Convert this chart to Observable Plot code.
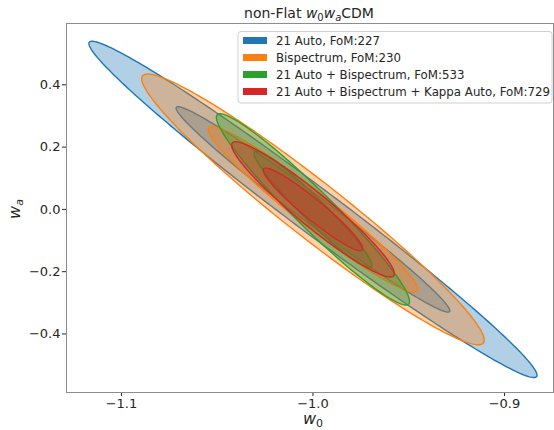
<!DOCTYPE html>
<html><head><meta charset="utf-8">
<script src="https://cdn.jsdelivr.net/npm/d3@7"></script>
<script src="https://cdn.jsdelivr.net/npm/@observablehq/plot@0.6"></script>
<style>body{margin:0;background:#fff;} svg{font-family:"DejaVu Sans",sans-serif}</style>
</head><body><div id="chart"></div>
<script>
// Series (Fisher forecasts)
const seriesNames = ["21 Auto, FoM:227", "Bispectrum, FoM:230", "21 Auto + Bispectrum, FoM:533", "21 Auto + Bispectrum + Kappa Auto, FoM:729"];
const seriesColors = ["#1f77b4", "#ff7f0e", "#2ca02c", "#d62728"];
const centerW0 = [-1.0, -1.0, -1.0, -1.0];
const centerWa = [0.0, 0.0, 0.0, 0.0];
const sigmaW0 = [0.0471, 0.0360, 0.0203, 0.0171];
const sigmaWa = [0.2174, 0.1750, 0.1236, 0.0874];
const rho = [-0.986, -0.965, -0.962, -0.950];
// sqrt(delta chi^2) for 2-sigma (outer) and 1-sigma (inner) contours
const levels = [2.484, 1.517];
const xTicks = [-1.1, -1.0, -0.9];
const yTicks = [-0.4, -0.2, 0.0, 0.2, 0.4];

// ellipse outlines from each covariance
const pts = [];
const N = 240;
seriesNames.forEach((name, i) => {
  levels.forEach((k, j) => {
    for (let s = 0; s < N; s++) {
      const t = 2 * Math.PI * s / N;
      pts.push({
        key: i + "-" + j,
        series: name,
        w0: centerW0[i] + k * sigmaW0[i] * Math.cos(t),
        wa: centerWa[i] + k * sigmaWa[i] * (rho[i] * Math.cos(t) + Math.sqrt(1 - rho[i] * rho[i]) * Math.sin(t))
      });
    }
  });
});

const fmt = d3.format(".1f");
const plot = Plot.plot({
  width: 554, height: 430,
  marginLeft: 66, marginRight: 1, marginTop: 23, marginBottom: 38,
  style: {fontFamily: "DejaVu Sans", fontSize: "13px", color: "#262626", background: "#fff"},
  x: {domain: [-1.1287, -0.8744], ticks: xTicks, tickFormat: fmt, tickSize: 4, tickPadding: 2, label: null},
  y: {domain: [-0.588, 0.597], ticks: yTicks, tickFormat: fmt, tickSize: 4, tickPadding: 2, label: null},
  color: {domain: seriesNames, range: seriesColors},
  marks: [
    Plot.line(pts, {x: "w0", y: "wa", z: "key", curve: "linear-closed",
      fill: "series", fillOpacity: 0.35, stroke: "series", strokeWidth: 1.4}),
    Plot.frame({stroke: "#8c8c8c"})
  ]
});
document.getElementById("chart").appendChild(plot);

const svg = d3.select(plot);
// title
const tt = svg.append("text").attr("x", 309).attr("y", 18).attr("text-anchor", "middle")
  .attr("font-size", 14).attr("fill", "#262626");
tt.append("tspan").text("non-Flat ");
tt.append("tspan").attr("font-style", "italic").text("w");
tt.append("tspan").attr("font-size", 10).attr("dy", 3).text("0");
tt.append("tspan").attr("font-style", "italic").attr("dy", -3).text("w");
tt.append("tspan").attr("font-style", "italic").attr("font-size", 10).attr("dy", 3).text("a");
tt.append("tspan").attr("dy", -3).text("CDM");

// x label
const xl = svg.append("text").attr("x", 313).attr("y", 424).attr("text-anchor", "middle")
  .attr("font-size", 16).attr("fill", "#262626");
xl.append("tspan").attr("font-style", "italic").text("w");
xl.append("tspan").attr("font-size", 11).attr("dy", 2.5).text("0");

// y label
const yl = svg.append("text").attr("transform", "translate(20,209) rotate(-90)").attr("text-anchor", "middle")
  .attr("font-size", 16).attr("fill", "#262626");
yl.append("tspan").attr("font-style", "italic").text("w");
yl.append("tspan").attr("font-style", "italic").attr("font-size", 11).attr("dy", 3).text("a");

// legend
const lg = svg.append("g").attr("text-anchor", "start");
lg.append("rect").attr("x", 238).attr("y", 31.5).attr("width", 314).attr("height", 71.5).attr("rx", 3)
  .attr("fill", "#fff").attr("fill-opacity", 0.8).attr("stroke", "#d0d0d0");
seriesNames.forEach((name, i) => {
  const cy = 40.5 + i * 17;
  lg.append("rect").attr("x", 243).attr("y", cy - 3.5).attr("width", 24).attr("height", 7).attr("fill", seriesColors[i]);
  lg.append("text").attr("x", 276).attr("y", cy).attr("dy", "0.35em").attr("font-size", 11.8)
    .attr("text-anchor", "start").attr("fill", "#262626").text(name);
});
</script>
</body></html>
